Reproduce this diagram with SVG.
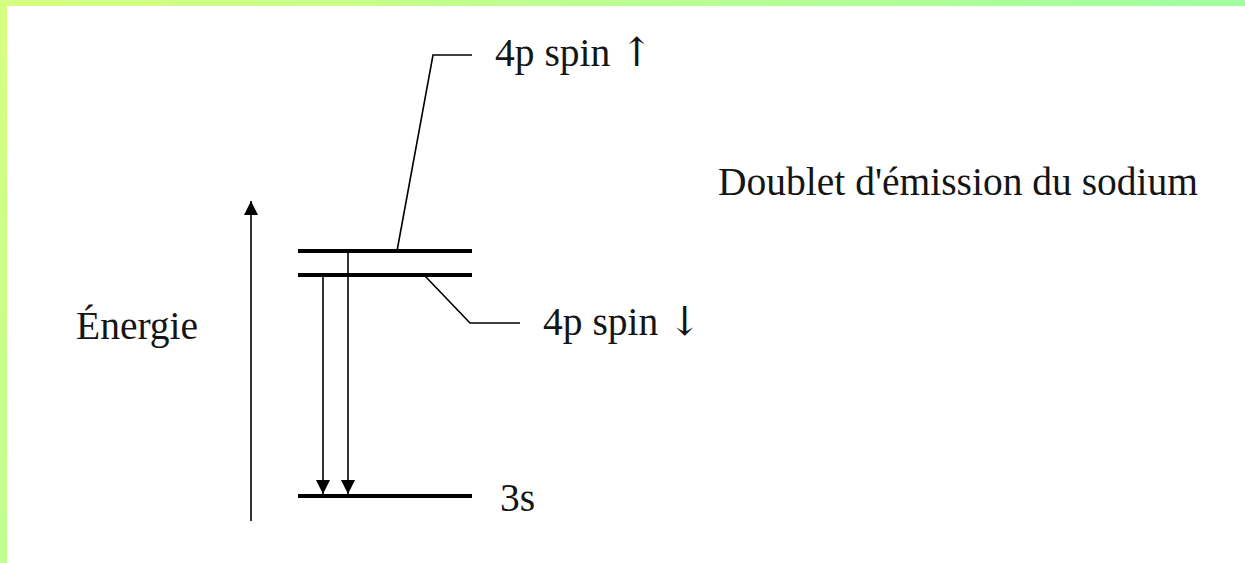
<svg xmlns="http://www.w3.org/2000/svg" width="1245" height="563" viewBox="0 0 1245 563">
  <defs>
    <linearGradient id="gTop" x1="0" y1="0" x2="1" y2="0">
      <stop offset="0" stop-color="#d6ff80"/>
      <stop offset="1" stop-color="#a0ffa0"/>
    </linearGradient>
    <linearGradient id="gLeft" x1="0" y1="0" x2="0" y2="1">
      <stop offset="0" stop-color="#d6ff80"/>
      <stop offset="1" stop-color="#c0ff90"/>
    </linearGradient>
    <marker id="ah" viewBox="0 0 14 14" refX="14" refY="7" markerWidth="14" markerHeight="14" markerUnits="userSpaceOnUse" orient="auto">
      <path d="M0,0 L14,7 L0,14 Z" fill="#000"/>
    </marker>
    <style>
      .t { font-family: "Liberation Serif", "Times New Roman", serif; font-size: 39.5px; fill: #151515; }
      .sym { font-family: "DejaVu Serif", serif; font-size: 40px; }
      .lvl { stroke: #000; stroke-width: 4; fill: none; }
      .lead { stroke: #000; stroke-width: 1.6; fill: none; }
      .arr { stroke: #000; stroke-width: 1.6; fill: none; marker-end: url(#ah); }
    </style>
  </defs>
  <rect width="1245" height="563" fill="#fff"/>
  <rect x="0" y="0" width="1245" height="6" fill="url(#gTop)"/>
  <rect x="0" y="0" width="7" height="563" fill="url(#gLeft)"/>

  <g id="energy-axis">
    <line class="arr" x1="251" y1="521" x2="251" y2="201"/>
    <text class="t" x="76" y="339">Énergie</text>
  </g>

  <g id="level-4p-up">
    <line class="lvl" x1="298" y1="251" x2="472" y2="251"/>
    <text class="t" x="495" y="66">4p spin <tspan class="sym">↑</tspan></text>
  </g>
  <g id="level-4p-down">
    <line class="lvl" x1="298" y1="275" x2="472" y2="275"/>
    <text class="t" x="543" y="335">4p spin <tspan class="sym">↓</tspan></text>
  </g>
  <g id="level-3s">
    <line class="lvl" x1="298" y1="496" x2="472" y2="496"/>
    <text class="t" x="500" y="511">3s</text>
  </g>
  <g id="title">
    <text class="t" x="718" y="195">Doublet d'émission du sodium</text>
  </g>

  <g id="connectors">
    <polyline class="lead" points="397,251 433,55 472,55"/>
    <polyline class="lead" points="425,276 470,323 520,323"/>
    <line class="arr" x1="323" y1="277" x2="323" y2="494"/>
    <line class="arr" x1="348" y1="253" x2="348" y2="494"/>
  </g>
</svg>
